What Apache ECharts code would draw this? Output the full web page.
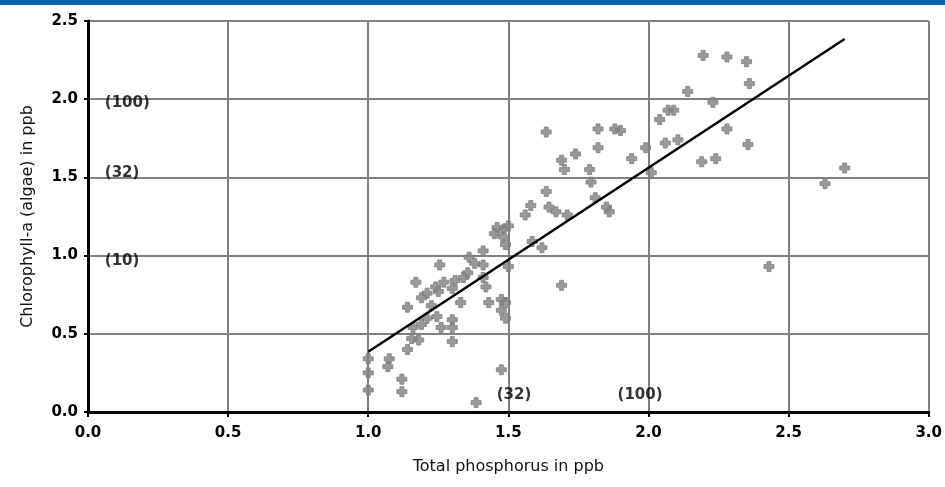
<!DOCTYPE html>
<html lang="en">
<head>
  <meta charset="UTF-8">
  <title>Chlorophyll vs phosphorus</title>
  <style>
    html, body { margin: 0; padding: 0; background: #fff; }
  </style>
</head>
<body>
  <div id="main" style="width: 945px; height: 487px"></div>
  <script src="https://cdn.jsdelivr.net/npm/echarts@6/dist/echarts.min.js"></script>
  <script>
    // total phosphorus (x) and chlorophyll-a (y)
    const phosphorus = [
      2.70, 2.63, 2.43, 2.195, 2.28, 2.35, 2.36, 2.14, 2.23, 2.07, 2.09, 2.04, 1.90, 2.28, 1.99,
      2.06, 2.105, 2.355, 1.94, 2.19, 2.24, 2.01, 1.635, 1.82, 1.88, 1.82, 1.74, 1.69, 1.70, 1.79,
      1.795, 1.635, 1.58, 1.56, 1.645, 1.67, 1.71, 1.81, 1.85, 1.86, 1.46, 1.485, 1.48, 1.49, 1.585,
      1.62, 1.41, 1.38, 1.41, 1.50, 1.41, 1.69, 1.42, 1.43, 1.475, 1.49, 1.36, 1.255, 1.17, 1.27,
      1.31, 1.34, 1.24, 1.21, 1.25, 1.30, 1.14, 1.225, 1.33, 1.475, 1.49, 1.21, 1.245, 1.30, 1.16,
      1.19, 1.26, 1.30, 1.155, 1.18, 1.30, 1.14, 1.00, 1.075, 1.07, 1.00, 1.475, 1.12, 1.00, 1.12,
      1.385, 1.50, 1.19, 1.355, 1.45
    ]
    const chlorophyll = [
      1.56, 1.46, 0.93, 2.28, 2.27, 2.24, 2.10, 2.05, 1.98, 1.93, 1.93, 1.87, 1.80, 1.81, 1.69,
      1.72, 1.74, 1.71, 1.62, 1.60, 1.62, 1.53, 1.79, 1.81, 1.81, 1.69, 1.65, 1.61, 1.55, 1.55,
      1.47, 1.41, 1.32, 1.26, 1.31, 1.28, 1.26, 1.37, 1.31, 1.28, 1.18, 1.17, 1.12, 1.07, 1.09,
      1.05, 1.03, 0.95, 0.94, 0.93, 0.86, 0.81, 0.80, 0.70, 0.72, 0.70, 0.99, 0.94, 0.83, 0.83,
      0.84, 0.86, 0.80, 0.76, 0.77, 0.79, 0.67, 0.68, 0.70, 0.65, 0.60, 0.60, 0.61, 0.59, 0.54,
      0.56, 0.54, 0.54, 0.47, 0.46, 0.45, 0.40, 0.34, 0.34, 0.29, 0.25, 0.27, 0.21, 0.14, 0.13,
      0.06, 1.19, 0.73, 0.89, 1.14
    ]

    // fitted line end points
    const fitX = [1.0, 2.7]
    const fitY = [0.385, 2.385]

    // bracketed notes on the plot
    const noteX = [0.06, 0.06, 0.06, 1.52, 1.97]
    const noteY = [1.975, 1.53, 0.965, 0.11, 0.11]
    const noteText = ['(100)', '(32)', '(10)', '(32)', '(100)']
    const noteAlign = ['left', 'left', 'left', 'center', 'center']

    const font = 'DejaVu Sans'
    const myChart = echarts.init(document.getElementById('main'))

    const points = phosphorus.map((x, i) => [x, chlorophyll[i]])
    const fitLine = fitX.map((x, i) => [x, fitY[i]])
    const notes = noteX.map((x, i) => ({
      value: [x, noteY[i]],
      label: { formatter: noteText[i], align: noteAlign[i] }
    }))

    const option = {
      animation: false,
      backgroundColor: '#fff',
      graphic: [
        { type: 'rect', left: 0, top: 0, shape: { width: 945, height: 5 }, style: { fill: '#0b67ad' } }
      ],
      grid: { left: 88, right: 15, top: 21, bottom: 75 },
      xAxis: [
        {
          type: 'value', min: 0, max: 3, interval: 0.5,
          name: 'Total phosphorus in ppb', nameLocation: 'middle', nameGap: 47,
          nameTextStyle: { fontFamily: font, fontSize: 16, color: '#111' },
          axisLine: { lineStyle: { color: '#000', width: 3 } },
          axisTick: { show: true, length: 5, lineStyle: { color: '#000', width: 2 } },
          axisLabel: { margin: 14, fontFamily: font, fontWeight: 'bold', fontSize: 15, color: '#000',
                       formatter: v => v.toFixed(1) },
          splitLine: { show: true, lineStyle: { color: '#808080', width: 2 } }
        },
        {
          type: 'value', min: 0, max: 3, position: 'top',
          axisLine: { show: true, lineStyle: { color: '#000', width: 2 } },
          axisTick: { show: false }, axisLabel: { show: false }, splitLine: { show: false }
        }
      ],
      yAxis: [
        {
          type: 'value', min: 0, max: 2.5, interval: 0.5,
          name: 'Chlorophyll-a (algae) in ppb', nameLocation: 'middle', nameGap: 52,
          nameTextStyle: { fontFamily: font, fontSize: 16, color: '#111' },
          axisLine: { show: true, lineStyle: { color: '#000', width: 3 } },
          axisTick: { show: true, length: 4, lineStyle: { color: '#000', width: 2 } },
          axisLabel: { margin: 10, fontFamily: font, fontWeight: 'bold', fontSize: 15, color: '#000',
                       formatter: v => v.toFixed(1) },
          splitLine: { show: true, lineStyle: { color: '#808080', width: 2 } }
        },
        {
          type: 'value', min: 0, max: 2.5, position: 'right',
          axisLine: { show: true, lineStyle: { color: '#000', width: 2 } },
          axisTick: { show: false }, axisLabel: { show: false }, splitLine: { show: false }
        }
      ],
      series: [
        {
          type: 'scatter',
          data: points,
          symbol: 'path://M3,0 L7,0 L7,3 L10,3 L10,7 L7,7 L7,10 L3,10 L3,7 L0,7 L0,3 L3,3 Z',
          symbolSize: 10,
          itemStyle: { color: '#7f7f7f', borderColor: '#7f7f7f', borderWidth: 1, borderJoin: 'round' },
          z: 3
        },
        {
          type: 'line',
          data: fitLine,
          showSymbol: false,
          symbol: 'none',
          lineStyle: { color: '#000', width: 2.5 },
          z: 4
        },
        {
          type: 'scatter',
          data: notes,
          symbolSize: 0,
          silent: true,
          label: {
            show: true, position: 'inside', verticalAlign: 'middle',
            fontFamily: font, fontWeight: 'bold', fontSize: 15, color: '#000'
          },
          z: 5
        }
      ]
    }

    myChart.setOption(option)
  </script>
</body>
</html>
